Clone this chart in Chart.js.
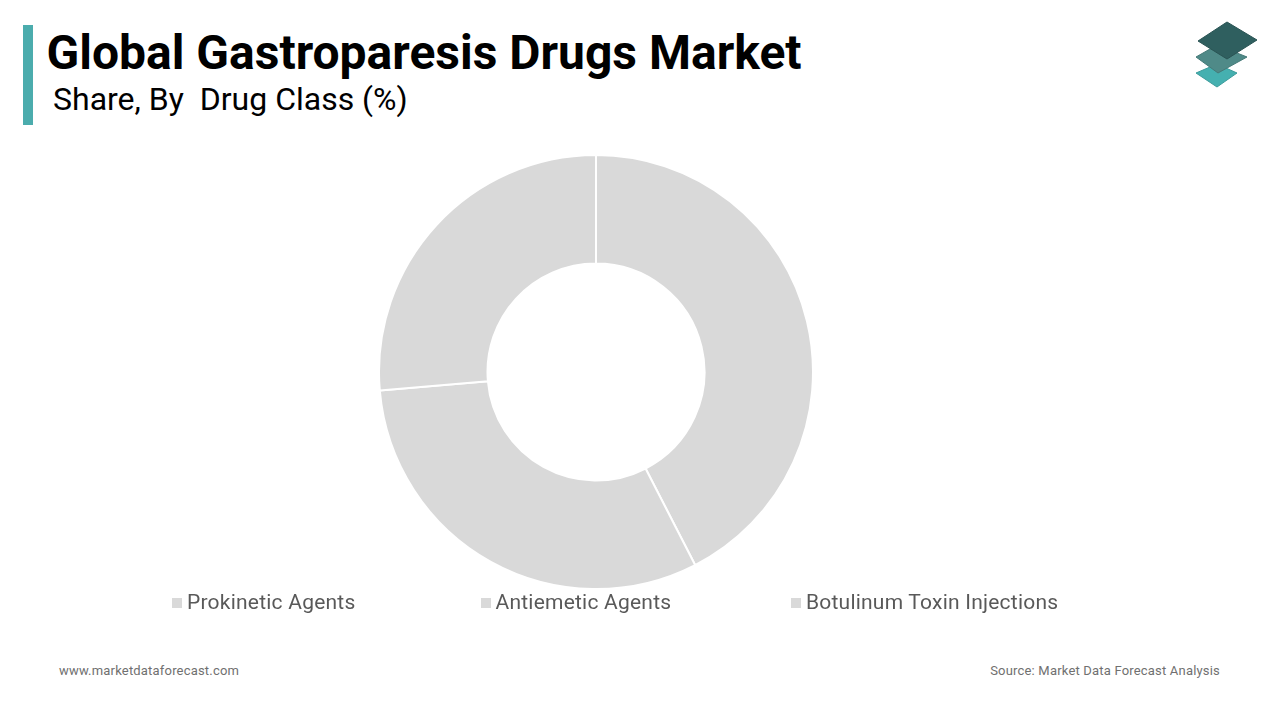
<!DOCTYPE html>
<html>
<head>
<meta charset="utf-8">
<title>Global Gastroparesis Drugs Market</title>
<script src="https://cdn.jsdelivr.net/npm/chart.js@4"></script>
<style>
  html, body { margin: 0; padding: 0; background: #fff; }
  body { width: 1280px; height: 720px; position: relative; overflow: hidden; font-family: Roboto, sans-serif; }
  #bar { position: absolute; left: 23px; top: 25px; width: 10px; height: 100px; background: #4bacad; }
  #title { position: absolute; left: 46.5px; top: 25px; font-size: 48px; line-height: 55px; font-weight: 700; color: #000; white-space: nowrap; }
  #subtitle { position: absolute; left: 53px; top: 80px; font-size: 32px; line-height: 38px; color: #000; white-space: pre; }
  #logo { position: absolute; left: 1190px; top: 15px; }
  #chartBox { position: absolute; left: 376px; top: 152px; width: 440px; height: 440px; }
  #legend { position: absolute; left: 172px; top: 589px; display: grid; grid-template-columns: 308.5px 310.5px auto; font-size: 21px; letter-spacing: 0.22px; line-height: 26px; color: #595959; white-space: nowrap; }
  #legend span.box { display: inline-block; width: 10px; height: 10px; margin-right: 5px; vertical-align: 1px; }
  .foot { position: absolute; top: 662px; font-size: 13px; letter-spacing: 0.19px; line-height: 17px; color: #707070; }
</style>
</head>
<body>
<div id="bar"></div>
<div id="title">Global Gastroparesis Drugs Market</div>
<div id="subtitle">Share, By  Drug Class (%)</div>
<svg id="logo" width="75" height="80" viewBox="1190 15 75 80">
  <polygon points="1196,73 1217,64 1237,73 1217,87" fill="#45b0b0" stroke="#3d9c9c" stroke-width="1"/>
  <polygon points="1196,57 1217,45 1247,57 1218,73" fill="#4f8a88" stroke="#457a78" stroke-width="1"/>
  <polygon points="1198,41 1227,22 1257,40 1227,59" fill="#2f5f5f" stroke="#2a5454" stroke-width="1"/>
</svg>
<div id="chartBox"><canvas id="shareChart"></canvas></div>
<div id="legend"></div>
<div class="foot" style="left:59px">www.marketdataforecast.com</div>
<div class="foot" style="right:60px">Source: Market Data Forecast Analysis</div>
<script>
// Daten
const categories = ["Prokinetic Agents", "Antiemetic Agents", "Botulinum Toxin Injections"];
const shares = [42.45, 31.2, 26.35];
const sliceColors = ["#d9d9d9", "#d9d9d9", "#d9d9d9"];

const legendEl = document.getElementById("legend");
categories.forEach((name, i) => {
  const item = document.createElement("div");
  const box = document.createElement("span");
  box.className = "box";
  box.style.background = sliceColors[i];
  item.appendChild(box);
  item.appendChild(document.createTextNode(name));
  legendEl.appendChild(item);
});

new Chart(document.getElementById("shareChart"), {
  type: "doughnut",
  data: {
    labels: categories,
    datasets: [{
      data: shares,
      backgroundColor: sliceColors,
      borderColor: "#ffffff",
      borderWidth: 2
    }]
  },
  options: {
    responsive: true,
    maintainAspectRatio: false,
    animation: false,
    cutout: "50%",
    layout: { padding: 2 },
    plugins: {
      legend: { display: false },
      tooltip: { enabled: false }
    }
  }
});
</script>
</body>
</html>
